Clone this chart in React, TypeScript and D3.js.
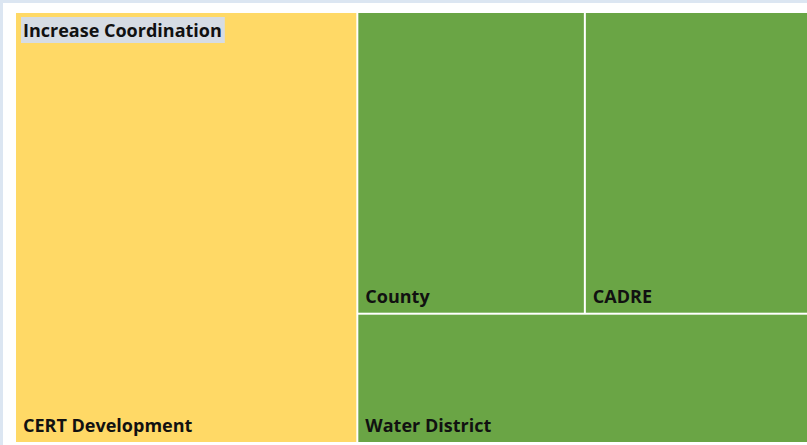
import React, { useEffect, useRef } from 'react';
import * as d3 from 'd3';

// groups (parents) and their leaves
const groupNames = ['Increase Coordination', 'Partners'];
const groupColors = ['#FFD966', '#6AA545'];
const showGroupLabel = [true, false];
const leafNames = ['CERT Development', 'County', 'CADRE', 'Water District'];
const leafGroups = [0, 1, 1, 1];
const leafValues = [144, 67, 66, 57];

const W = 807;
const H = 445;
const FONT = '"Open Sans", "Noto Sans", sans-serif';

// squarify variant that lays each row along the longer side (as Excel does)
function excelSquarify(parent: any, x0: number, y0: number, x1: number, y1: number) {
  const nodes = parent.children;
  let i0 = 0;
  let value = parent.value;
  while (i0 < nodes.length) {
    const dx = x1 - x0;
    const dy = y1 - y0;
    const along = dx >= dy; // row runs horizontally along the top
    const side = along ? dx : dy;
    let sum = 0;
    let best = Infinity;
    let i1 = i0;
    while (i1 < nodes.length) {
      const s = sum + nodes[i1].value;
      const thick = (s / value) * (along ? dy : dx);
      let worst = 0;
      for (let k = i0; k <= i1; k++) {
        const len = (nodes[k].value / s) * side;
        worst = Math.max(worst, len / thick, thick / len);
      }
      if (worst > best) break;
      best = worst;
      sum = s;
      i1++;
    }
    const row = { children: nodes.slice(i0, i1), value: sum } as any;
    if (along) {
      const yy = i1 >= nodes.length ? y1 : y0 + (dy * sum) / value;
      d3.treemapDice(row, x0, y0, x1, yy);
      y0 = yy;
    } else {
      const xx = i1 >= nodes.length ? x1 : x0 + (dx * sum) / value;
      d3.treemapSlice(row, x0, y0, xx, y1);
      x0 = xx;
    }
    value -= sum;
    i0 = i1;
  }
}

const App = () => {
  const ref = useRef<SVGSVGElement>(null);

  useEffect(() => {
    const svg = d3.select(ref.current);
    svg.selectAll('*').remove();

    // frame
    svg.append('rect').attr('width', W).attr('height', H).attr('fill', '#DCE6F2');
    svg.append('rect').attr('x', 3).attr('y', 3).attr('width', W - 3).attr('height', H - 3).attr('fill', '#ffffff');

    const data = {
      name: 'root',
      children: groupNames.map((g, gi) => ({
        name: g,
        gi,
        children: leafNames
          .map((n, i) => ({ name: n, value: leafValues[i], g: leafGroups[i] }))
          .filter((d) => d.g === gi),
      })),
    };

    const root = d3.hierarchy<any>(data).sum((d) => d.value || 0);

    d3
      .treemap<any>()
      .tile(excelSquarify as any)
      .size([W - 15, H - 16])
      .paddingInner(2)(root);

    const g = svg.append('g').attr('transform', 'translate(16,13)');

    const leaves = root.leaves() as any[];
    g.selectAll('rect.leaf')
      .data(leaves)
      .enter()
      .append('rect')
      .attr('class', 'leaf')
      .attr('x', (d) => d.x0)
      .attr('y', (d) => d.y0)
      .attr('width', (d) => d.x1 - d.x0)
      .attr('height', (d) => d.y1 - d.y0)
      .attr('fill', (d) => groupColors[d.data.g]);

    g.selectAll('text.leaf')
      .data(leaves)
      .enter()
      .append('text')
      .attr('class', 'leaf')
      .attr('x', (d) => d.x0 + 7)
      .attr('y', (d) => d.y1 - 10)
      .attr('font-family', FONT)
      .attr('font-weight', 'bold')
      .attr('font-size', 18)
      .attr('fill', '#111')
      .text((d) => d.data.name);

    // parent labels with banner background
    const groups = (root.children || []).filter((d: any) => showGroupLabel[d.data.gi]) as any[];
    const gl = g.selectAll('g.grp').data(groups).enter().append('g').attr('class', 'grp');
    const bg = gl
      .append('rect')
      .attr('x', (d) => d.x0 + 5)
      .attr('y', (d) => d.y0 + 4)
      .attr('height', 26)
      .attr('fill', '#D6DCE4');
    const tx = gl
      .append('text')
      .attr('x', (d) => d.x0 + 7)
      .attr('y', (d) => d.y0 + 24)
      .attr('font-family', FONT)
      .attr('font-weight', 'bold')
      .attr('font-size', 18)
      .attr('fill', '#111')
      .text((d) => d.data.name);
    tx.each(function (d: any, i) {
      const w = (this as SVGTextElement).getComputedTextLength();
      d3.select(bg.nodes()[i]).attr('width', w + 5);
    });
  }, []);

  return (
    <div style={{ position: 'fixed', left: 0, top: 0, width: W, height: H }}>
      <svg ref={ref} width={W} height={H} style={{ display: 'block' }} />
    </div>
  );
};

export default App;
